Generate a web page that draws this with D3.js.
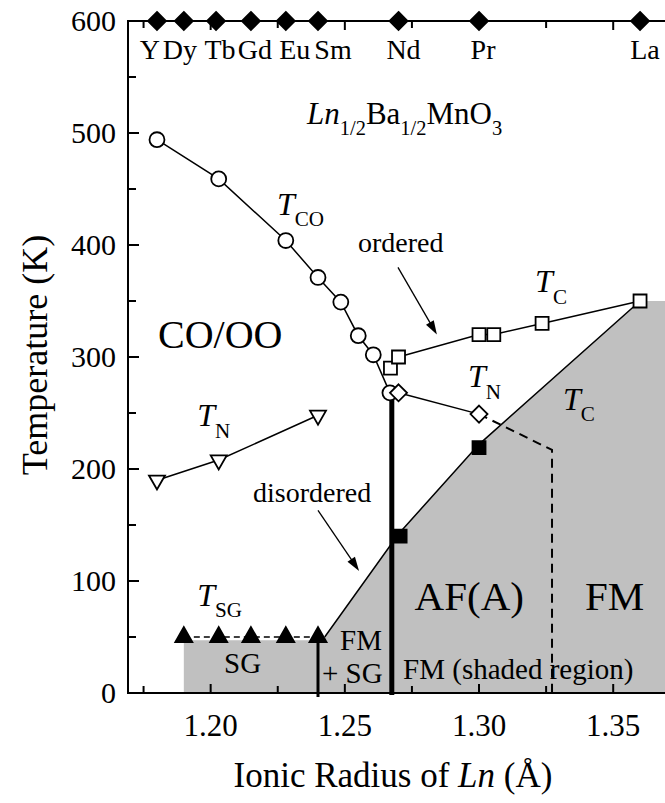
<!DOCTYPE html>
<html lang="en">
<head>
<meta charset="UTF-8">
<title>Ln1/2Ba1/2MnO3 phase diagram</title>
<script src="https://d3js.org/d3.v7.min.js"></script>
<style>
  body { margin: 0; background: white; }
  svg text { font-family: "Liberation Serif", "Times New Roman", serif; fill: #000; }
</style>
</head>
<body>
<script>
// Ln ions on the top edge
const lnNames = ["Y", "Dy", "Tb", "Gd", "Eu", "Sm", "Nd", "Pr", "La"];
const lnRadius = [1.18, 1.19, 1.202, 1.215, 1.228, 1.24, 1.27, 1.30, 1.36];

// T_CO, open circles
const tcoR = [1.18, 1.203, 1.228, 1.24, 1.2485, 1.255, 1.2606, 1.2668];
const tcoT = [494, 459, 404, 371, 349, 319, 302, 268];

// T_N of the CO/OO phase, open down triangles
const tnCoR = [1.18, 1.203, 1.24];
const tnCoT = [190, 208, 248];

// T_N of AF(A), open diamonds
const tnAR = [1.27, 1.30];
const tnAT = [268, 249];

// T_C of the ordered samples, open squares
const tcR = [1.267, 1.27, 1.30, 1.3055, 1.3235, 1.36];
const tcT = [290, 300, 320, 320, 330, 350];

// T_C of the disordered samples, filled squares
const tcDisR = [1.2706, 1.30];
const tcDisT = [140, 219];

// T_SG, filled up triangles
const tsgR = [1.19, 1.203, 1.215, 1.228, 1.24];
const tsgT = [50, 50, 50, 50, 50];

// edge of the shaded region
const shadeR = [1.19, 1.19, 1.24, 1.2425, 1.27, 1.30, 1.36, 1.375, 1.375];
const shadeT = [0, 47, 47, 50, 142, 222, 350, 350, 0];

// AF(A) / FM border (dashed)
const afR = [1.30, 1.3272, 1.3272];
const afT = [249, 217, 0];

const W = 665, H = 803;
const x = d3.scaleLinear().domain([1.1692, 1.3693]).range([128, 665]);
const y = d3.scaleLinear().domain([0, 600]).range([693, 21]);

const svg = d3.select("body").append("svg")
    .attr("width", W)
    .attr("height", H);

const line = d3.line().x(d => x(d[0])).y(d => y(d[1]));
const zip = (a, b) => a.map((v, i) => [v, b[i]]);

// shaded FM region
svg.append("path")
    .attr("d", line(zip(shadeR, shadeT)) + "Z")
    .attr("fill", "#c0c0c0");

// border line of the shaded region
svg.append("path")
    .attr("d", line(zip(shadeR.slice(3, 7), shadeT.slice(3, 7))))
    .attr("fill", "none")
    .attr("stroke", "#000")
    .attr("stroke-width", 1.5);

// thick boundaries
svg.append("line")
    .attr("x1", x(1.2675)).attr("x2", x(1.2675))
    .attr("y1", y(0) + 2).attr("y2", y(266))
    .attr("stroke", "#000").attr("stroke-width", 5);
svg.append("line")
    .attr("x1", x(1.24)).attr("x2", x(1.24))
    .attr("y1", y(0) + 4).attr("y2", y(50))
    .attr("stroke", "#000").attr("stroke-width", 3);

// dashed AF/FM border
svg.append("path")
    .attr("d", line(zip(afR, afT)))
    .attr("fill", "none")
    .attr("stroke", "#000")
    .attr("stroke-width", 2)
    .attr("stroke-dasharray", "9,6");

// T_SG dashed connector
svg.append("path")
    .attr("d", line(zip(tsgR, tsgT)))
    .attr("fill", "none")
    .attr("stroke", "#000")
    .attr("stroke-width", 1.5)
    .attr("stroke-dasharray", "6,4");

// connecting lines
[[tcoR, tcoT], [tnCoR, tnCoT], [tnAR, tnAT], [tcR.slice(1), tcT.slice(1)]].forEach(s => {
  svg.append("path")
      .attr("d", line(zip(s[0], s[1])))
      .attr("fill", "none")
      .attr("stroke", "#000")
      .attr("stroke-width", 1.5);
});

// axes frame
const frame = svg.append("g").attr("stroke", "#000").attr("stroke-width", 2);
frame.append("line").attr("x1", 128).attr("x2", 128).attr("y1", y(600)).attr("y2", y(0) + 1);
frame.append("line").attr("x1", 127).attr("x2", W).attr("y1", y(0)).attr("y2", y(0));
frame.append("line").attr("x1", 127).attr("x2", W).attr("y1", y(600)).attr("y2", y(600));

const yMajor = d3.range(0, 601, 100);
const yMinor = d3.range(50, 600, 100);
yMajor.forEach(t => frame.append("line").attr("x1", 128).attr("x2", 139).attr("y1", y(t)).attr("y2", y(t)));
yMinor.forEach(t => frame.append("line").attr("x1", 128).attr("x2", 136).attr("y1", y(t)).attr("y2", y(t)));

const xMajor = [1.20, 1.25, 1.30, 1.35];
const xMinor = [1.175, 1.225, 1.275, 1.325];
xMajor.concat(xMinor).forEach((r, i) => {
  const len = i < 4 ? 9 : 7;
  frame.append("line").attr("x1", x(r)).attr("x2", x(r)).attr("y1", y(0)).attr("y2", y(0) - len);
  frame.append("line").attr("x1", x(r)).attr("x2", x(r)).attr("y1", y(600)).attr("y2", y(600) + len);
});

svg.selectAll(".ylab").data(yMajor).enter().append("text")
    .attr("class", "ylab")
    .attr("x", 116)
    .attr("y", t => y(t) + 10)
    .attr("text-anchor", "end")
    .attr("font-size", 30)
    .text(t => t);

svg.selectAll(".xlab").data(xMajor).enter().append("text")
    .attr("class", "xlab")
    .attr("x", r => x(r))
    .attr("y", 736)
    .attr("text-anchor", "middle")
    .attr("font-size", 31)
    .text(r => r.toFixed(2));

// axis titles
svg.append("text")
    .attr("transform", "translate(47,355)rotate(-90)")
    .attr("text-anchor", "middle")
    .attr("font-size", 36)
    .text("Temperature (K)");

const xt = svg.append("text")
    .attr("x", 393).attr("y", 787)
    .attr("text-anchor", "middle")
    .attr("font-size", 35);
xt.append("tspan").text("Ionic Radius of ");
xt.append("tspan").attr("font-style", "italic").text("Ln");
xt.append("tspan").text(" (Å)");

// marker shapes
const diamond = h => `M0,${-h}L${h},0L0,${h}L${-h},0Z`;
const square = s => `M${-s / 2},${-s / 2}h${s}v${s}h${-s}Z`;
const triDown = (w, h) => `M${-w / 2},${-h / 3}L${w / 2},${-h / 3}L0,${2 * h / 3}Z`;
const triUp = (w, h) => `M${-w / 2},${h / 3}L${w / 2},${h / 3}L0,${-2 * h / 3}Z`;

function markers(rs, ts, path, fill) {
  svg.append("g").selectAll("path").data(zip(rs, ts)).enter().append("path")
      .attr("transform", d => `translate(${x(d[0])},${y(d[1])})`)
      .attr("d", path)
      .attr("fill", fill)
      .attr("stroke", "#000")
      .attr("stroke-width", 1.8);
}

markers(tcoR, tcoT, d3.symbol(d3.symbolCircle, Math.PI * 56)(), "#fff");
markers(tnCoR, tnCoT, triDown(16, 14), "#fff");
markers(tcR, tcT, square(13), "#fff");
markers(tnAR, tnAT, diamond(8.5), "#fff");
markers(tcDisR, tcDisT, square(13), "#000");
markers(tsgR, tsgT, triUp(17, 15), "#000");
markers(lnRadius, lnRadius.map(() => 600), diamond(9), "#000");

// Ln names on top (label shift in px so they do not collide)
const lnShift = [-7, -4, 4, 4, 9, 15, 5, 4, 5];
svg.selectAll(".ln").data(lnNames).enter().append("text")
    .attr("class", "ln")
    .attr("x", (d, i) => x(lnRadius[i]) + lnShift[i])
    .attr("y", y(566))
    .attr("text-anchor", "middle")
    .attr("font-size", 28)
    .text(d => d);

// annotations: [r, T, parts, size], parts = [text, italic, sub]
const notes = [
  [1.2359, 508, [["Ln", 1, 0], ["1/2", 0, 1], ["Ba", 0, 0], ["1/2", 0, 1], ["MnO", 0, 0], ["3", 0, 1]], 31],
  [1.1804, 308, [["CO/OO", 0, 0]], 40],
  [1.2247, 427, [["T", 1, 0], ["CO", 0, 1]], 32],
  [1.2549, 394, [["ordered", 0, 0]], 28],
  [1.3209, 358, [["T", 1, 0], ["C", 0, 1]], 32],
  [1.2959, 273, [["T", 1, 0], ["N", 0, 1]], 32],
  [1.3313, 253, [["T", 1, 0], ["C", 0, 1]], 32],
  [1.1950, 238, [["T", 1, 0], ["N", 0, 1]], 32],
  [1.2158, 170.5, [["disordered", 0, 0]], 28],
  [1.2760, 74, [["AF(A)", 0, 0]], 41],
  [1.3395, 74, [["FM", 0, 0]], 41],
  [1.1950, 78, [["T", 1, 0], ["SG", 0, 1]], 32],
  [1.2050, 18, [["SG", 0, 0]], 29],
  [1.2482, 38, [["FM", 0, 0]], 29],
  [1.2415, 9, [["+ SG", 0, 0]], 29],
  [1.2717, 12.5, [["FM (shaded region)", 0, 0]], 29]
];

notes.forEach(n => {
  const fs = n[3];
  const t = svg.append("text")
      .attr("x", x(n[0]))
      .attr("y", y(n[1]))
      .attr("font-size", fs);
  let low = false;
  n[2].forEach(p => {
    const ts = t.append("tspan").text(p[0]);
    if (p[1]) ts.attr("font-style", "italic");
    if (p[2]) {
      ts.attr("font-size", fs * 0.66);
      if (!low) ts.attr("dy", fs * 0.36);
      low = true;
    } else {
      if (low) ts.attr("dy", -fs * 0.36);
      low = false;
    }
  });
});

// arrows
const arrows = [
  [[1.2698, 380], [1.2843, 320]],
  [[1.2400, 163], [1.2553, 109]]
];
arrows.forEach(a => {
  const x1 = x(a[0][0]), y1 = y(a[0][1]), x2 = x(a[1][0]), y2 = y(a[1][1]);
  const ang = Math.atan2(y2 - y1, x2 - x1);
  svg.append("line")
      .attr("x1", x1).attr("y1", y1)
      .attr("x2", x2 - 6 * Math.cos(ang)).attr("y2", y2 - 6 * Math.sin(ang))
      .attr("stroke", "#000").attr("stroke-width", 1.3);
  const L = 14, w = 4.5;
  const bx = x2 - L * Math.cos(ang), by = y2 - L * Math.sin(ang);
  const px = -Math.sin(ang) * w, py = Math.cos(ang) * w;
  svg.append("path")
      .attr("d", `M${x2},${y2}L${bx + px},${by + py}L${bx - px},${by - py}Z`)
      .attr("fill", "#000");
});
</script>
</body>
</html>
